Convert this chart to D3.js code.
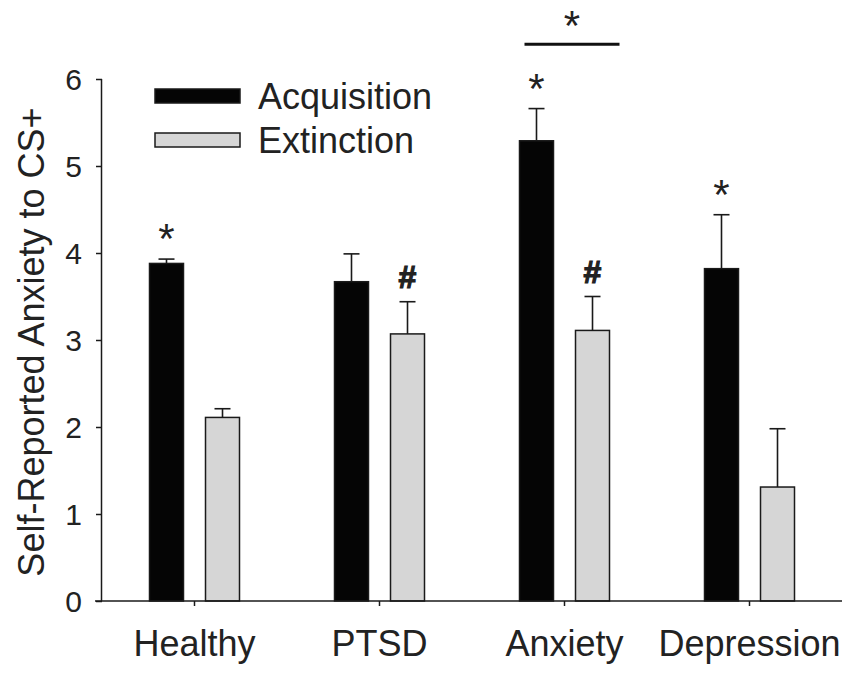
<!DOCTYPE html>
<html>
<head>
<meta charset="utf-8">
<script src="https://cdn.jsdelivr.net/npm/d3@7"></script>
<style>
  html, body { margin: 0; padding: 0; background: #fff; }
  svg { display: block; font-family: "Liberation Sans", Arial, sans-serif; }
</style>
</head>
<body>
<svg id="chart" width="849" height="677"></svg>
<script>
// Groups and conditions
const categories = ["Healthy", "PTSD", "Anxiety", "Depression"];
const seriesNames = ["Acquisition", "Extinction"];

// Mean self-reported anxiety to CS+ and standard errors
const acquisition = [3.88, 3.67, 5.29, 3.82];
const acquisitionErr = [0.05, 0.32, 0.37, 0.62];
const extinction = [2.11, 3.07, 3.11, 1.31];
const extinctionErr = [0.10, 0.37, 0.39, 0.67];

// Y-axis ticks
const yTicks = [0, 1, 2, 3, 4, 5, 6];

// Significance markers: group, condition, symbol
const markerGroups = ["Healthy", "Anxiety", "Depression", "PTSD", "Anxiety"];
const markerSeries = ["Acquisition", "Acquisition", "Acquisition", "Extinction", "Extinction"];
const markerSymbols = ["*", "*", "*", "#", "#"];

// Between-group comparison bracket (Anxiety acquisition vs. extinction)
const bracketGroup = "Anxiety";
const bracketLevel = 6.4;
const bracketSymbol = "*";

const svg = d3.select("#chart");
const ink = "#1a1a1a";

const margin = { left: 102, right: 7, top: 79, bottom: 76 };
const W = 849, H = 677;

const y = d3.scaleLinear().domain([0, 6]).range([H - margin.bottom, margin.top]);
const x = d3.scaleBand().domain(categories).range([margin.left, W - margin.right]).paddingInner(0).paddingOuter(0);
const xs = d3.scaleBand().domain(seriesNames).range([-45, 45]).paddingInner(0.393).paddingOuter(0);

const fills = { Acquisition: "#050505", Extinction: "#d6d6d6" };
const values = { Acquisition: acquisition, Extinction: extinction };
const errors = { Acquisition: acquisitionErr, Extinction: extinctionErr };

const rows = [];
categories.forEach((c, i) => {
  seriesNames.forEach(s => {
    rows.push({ cat: c, series: s, value: values[s][i], err: errors[s][i] });
  });
});

const center = c => x(c) + x.bandwidth() / 2;

// Bars
svg.append("g").selectAll("rect").data(rows).join("rect")
  .attr("x", d => center(d.cat) + xs(d.series))
  .attr("y", d => y(d.value))
  .attr("width", xs.bandwidth())
  .attr("height", d => y(0) - y(d.value))
  .attr("fill", d => fills[d.series])
  .attr("stroke", ink)
  .attr("stroke-width", 1.5);

// Upper error bars
const eb = svg.append("g").attr("stroke", ink).attr("stroke-width", 1.6);
rows.forEach(d => {
  const cx = center(d.cat) + xs(d.series) + xs.bandwidth() / 2;
  eb.append("line").attr("x1", cx).attr("x2", cx).attr("y1", y(d.value)).attr("y2", y(d.value + d.err));
  eb.append("line").attr("x1", cx - 8).attr("x2", cx + 8).attr("y1", y(d.value + d.err)).attr("y2", y(d.value + d.err));
});

// Y axis
const yAxis = d3.axisLeft(y).tickValues(yTicks).tickFormat(d3.format("d")).tickSize(6).tickPadding(14);
const gy = svg.append("g").attr("transform", `translate(${margin.left},0)`).call(yAxis);
gy.select(".domain").attr("stroke", ink).attr("stroke-width", 1.5).attr("d", `M-0.5,${y(6)}V${y(0)}`);
gy.selectAll(".tick line").attr("stroke", ink).attr("stroke-width", 1.5);
gy.selectAll(".tick text").attr("fill", "#222").style("font-size", "30px").attr("dy", "0.36em");

// X axis
const xAxis = d3.axisBottom(x).tickSize(5).tickPadding(24);
const gx = svg.append("g").attr("transform", `translate(0,${y(0)})`).call(xAxis);
gx.select(".domain").attr("stroke", ink).attr("stroke-width", 1.5).attr("d", `M${margin.left - 7},0H${W - margin.right}`);
gx.selectAll(".tick line").attr("stroke", ink).attr("stroke-width", 1.5);
gx.selectAll(".tick text").attr("fill", "#222").style("font-size", "36px").attr("dy", "0.71em");

// Y axis title
svg.append("text")
  .attr("transform", `translate(44,${(y(0) + y(6)) / 2 + 2}) rotate(-90)`)
  .attr("text-anchor", "middle")
  .attr("fill", "#222")
  .style("font-size", "36px")
  .text("Self-Reported Anxiety to CS+");

// Legend
const legend = svg.append("g");
seriesNames.forEach((s, i) => {
  const ly = 89 + i * 44;
  legend.append("rect").attr("x", 155).attr("y", ly).attr("width", 85).attr("height", 14)
    .attr("fill", fills[s]).attr("stroke", ink).attr("stroke-width", 1.5);
  legend.append("text").attr("x", 258).attr("y", ly + 20).attr("fill", "#222")
    .style("font-size", "36px").text(s);
});

// Significance markers above the error bars
const marks = svg.append("g").attr("fill", "#222").attr("text-anchor", "middle");
markerSymbols.forEach((sym, i) => {
  const row = rows.find(r => r.cat === markerGroups[i] && r.series === markerSeries[i]);
  const cx = center(row.cat) + xs(row.series) + xs.bandwidth() / 2;
  const top = y(row.value + row.err);
  if (sym === "*") {
    marks.append("text").attr("x", cx).attr("y", top - 6).style("font-size", "42px").text(sym);
  } else {
    marks.append("text").attr("x", cx).attr("y", top - 14)
      .style("font-size", "32px").style("font-weight", "bold")
      .attr("stroke", "#222").attr("stroke-width", 1.2).text(sym);
  }
});

// Bracket across the Anxiety pair
const bx1 = center(bracketGroup) + xs("Acquisition");
const bx2 = center(bracketGroup) + xs("Extinction") + xs.bandwidth() + 10;
svg.append("line").attr("x1", bx1 + 5).attr("x2", bx2).attr("y1", y(bracketLevel)).attr("y2", y(bracketLevel))
  .attr("stroke", "#111").attr("stroke-width", 3);
svg.append("text").attr("x", (bx1 + 5 + bx2) / 2).attr("y", y(bracketLevel) - 4)
  .attr("text-anchor", "middle").attr("fill", "#222").style("font-size", "42px").text(bracketSymbol);
</script>
</body>
</html>
